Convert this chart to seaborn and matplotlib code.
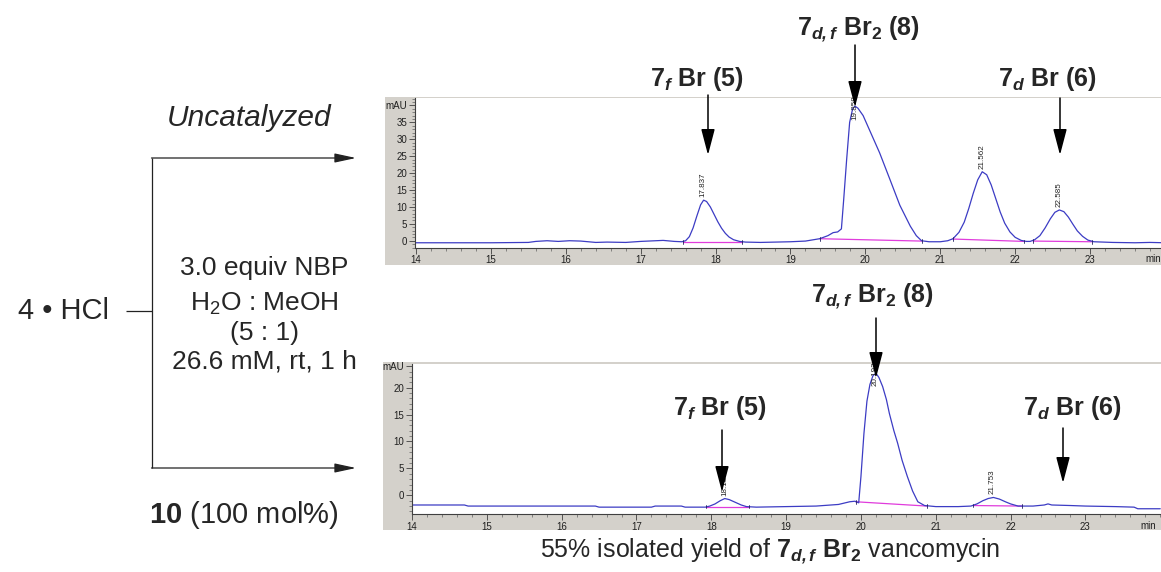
import matplotlib
matplotlib.use('Agg')
import matplotlib.pyplot as plt
from matplotlib.patches import Rectangle
from matplotlib.ticker import MultipleLocator
import seaborn as sns

W, H = 1161, 572

# uncatalyzed run: retention time (min) / absorbance (mAU)
top_time = [14.0, 15.0, 15.5, 15.6, 15.75, 15.9, 16.05, 16.2, 16.4, 16.55, 16.8, 17.0, 17.3, 17.45,
            17.55, 17.6, 17.65, 17.7, 17.75, 17.8, 17.84, 17.88, 17.93, 17.98, 18.03, 18.08, 18.13,
            18.18, 18.24, 18.32, 18.4, 18.6, 18.8, 19.0, 19.2, 19.39, 19.5, 19.57, 19.63, 19.68,
            19.71, 19.75, 19.79, 19.83, 19.86, 19.9, 19.97, 20.06, 20.19, 20.33, 20.46, 20.6, 20.68,
            20.75, 20.85, 21.0, 21.1, 21.17, 21.25, 21.32, 21.38, 21.44, 21.5, 21.56, 21.62, 21.68,
            21.74, 21.8, 21.86, 21.93, 22.0, 22.08, 22.15, 22.2, 22.26, 22.33, 22.4, 22.47, 22.53,
            22.59, 22.65, 22.71, 22.77, 22.83, 22.9, 22.97, 23.05, 23.3, 23.6, 23.8, 24.0]
top_signal = [-0.6, -0.6, -0.5, -0.2, 0.0, -0.2, 0.0, -0.1, -0.5, -0.4, -0.5, -0.2, 0.1, -0.2,
              -0.3, 0.0, 1.2, 3.8, 7.3, 10.6, 12.0, 11.6, 10.0, 7.8, 5.6, 3.7, 2.2,
              1.1, 0.3, -0.2, -0.4, -0.5, -0.4, -0.3, -0.1, 0.6, 1.5, 2.4, 2.6, 3.5,
              12.0, 24.0, 35.0, 39.0, 39.8, 39.2, 37.0, 32.5, 26.0, 18.0, 10.5, 4.3, 1.5,
              0.0, -0.3, -0.3, 0.0, 0.6, 2.5, 5.5, 9.5, 14.0, 18.0, 20.4, 19.5, 16.5,
              12.5, 8.5, 5.2, 2.6, 1.0, 0.1, -0.2, -0.2, 0.3, 1.5, 3.8, 6.5, 8.4,
              9.1, 8.6, 7.0, 4.9, 2.9, 1.3, 0.2, -0.3, -0.5, -0.6, -0.5, -0.6]
top_peak_time = [17.837, 19.858, 21.562, 22.585]
top_peak_height = [12.0, 39.8, 20.4, 9.1]
top_peak_label = ['17.837', '19.858', '21.562', '22.585']
top_base_start = [(17.57, -0.3), (19.39, 0.6), (21.17, 0.5), (22.24, -0.1)]
top_base_end = [(18.35, -0.3), (20.75, -0.1), (22.12, -0.2), (23.02, -0.3)]

# catalyzed run with 10
bot_time = [14.0, 14.7, 14.75, 15.5, 16.45, 16.5, 17.2, 17.25, 17.6, 17.65, 17.92, 17.98, 18.05,
            18.12, 18.18, 18.24, 18.32, 18.4, 18.47, 18.6, 19.0, 19.4, 19.7, 19.85, 19.92, 19.97,
            20.0, 20.04, 20.08, 20.12, 20.16, 20.2, 20.24, 20.29, 20.34, 20.38, 20.44, 20.49, 20.55,
            20.62, 20.69, 20.76, 20.85, 21.0, 21.3, 21.47, 21.55, 21.63, 21.7, 21.77, 21.85, 21.93,
            22.0, 22.1, 22.3, 22.45, 22.5, 22.55, 22.8, 23.0, 23.4, 23.65, 23.7, 24.0]
bot_signal = [-1.8, -1.8, -2.0, -2.0, -2.0, -2.2, -2.2, -2.0, -2.0, -2.2, -2.2, -2.0, -1.6,
              -1.0, -0.6, -0.8, -1.3, -1.8, -2.1, -2.2, -2.1, -2.0, -1.7, -1.2, -1.1, -1.4,
              3.5, 11.5, 17.5, 20.6, 22.2, 22.7, 21.9, 20.2, 17.8, 15.2, 12.0, 9.7, 6.5,
              3.5, 0.8, -1.2, -1.9, -2.1, -2.1, -2.0, -1.6, -1.0, -0.6, -0.4, -0.7, -1.2,
              -1.6, -2.0, -2.0, -1.8, -1.6, -1.8, -1.9, -2.0, -2.1, -2.2, -2.5, -2.5]
bot_peak_time = [18.183, 20.193, 21.753]
bot_peak_height = [-0.6, 22.7, -0.4]
bot_peak_label = ['18.183', '20.193', '21.753']
bot_base_start = [(17.93, -2.1), (19.93, -1.2), (21.5, -1.9)]
bot_base_end = [(18.5, -2.1), (20.88, -2.0), (22.15, -2.0)]

sns.set_style('ticks')
plt.rcParams['font.family'] = ['Liberation Sans', 'DejaVu Sans']
plt.rcParams['mathtext.fontset'] = 'custom'
plt.rcParams['mathtext.rm'] = 'Liberation Sans'
plt.rcParams['mathtext.it'] = 'Liberation Sans:italic'
plt.rcParams['mathtext.bf'] = 'Liberation Sans:bold'
plt.rcParams['mathtext.bfit'] = 'Liberation Sans:italic:bold'

fig = plt.figure(figsize=(W / 100, H / 100), dpi=100)
fig.patch.set_facecolor('white')

panel_grey = '#d4d1cb'
trace_blue = '#3c3cc4'
base_pink = '#e03cdc'


def px_box(l, t, r, b):
    return [l / W, 1 - b / H, (r - l) / W, (b - t) / H]


def chromatogram(box, grey, xlim, ylim, yticks, ylabels, t, s, pk_t, pk_h, pk_lab, b0, b1):
    g = px_box(*grey)
    fig.patches.append(Rectangle((g[0], g[1]), g[2], g[3], transform=fig.transFigure,
                                 facecolor=panel_grey, edgecolor='none', zorder=0))
    ax = fig.add_axes(px_box(*box), zorder=1)
    ax.set_facecolor('white')
    sns.lineplot(x=t, y=s, ax=ax, color=trace_blue, lw=0.9, estimator=None, sort=False)
    tick_h = 0.5 * (ylim[1] - ylim[0]) / 40
    for (x0, y0), (x1, y1) in zip(b0, b1):
        ax.plot([x0, x1], [y0, y1], color=base_pink, lw=0.9, zorder=1)
        ax.plot([x0, x0], [y0 - tick_h, y0 + tick_h], color='#202060', lw=0.6)
        ax.plot([x1, x1], [y1 - tick_h, y1 + tick_h], color='#202060', lw=0.6)
    ax.set_xlim(*xlim)
    ax.set_ylim(*ylim)
    unit_px = (box[3] - box[1]) / (ylim[1] - ylim[0])
    for x, h, lab in zip(pk_t, pk_h, pk_lab):
        y = min(h + 3 / unit_px, ylim[1] - 22 / unit_px)
        ax.text(x, y, lab, rotation=90, ha='center', va='bottom', fontsize=5.8,
                color='#222222', zorder=3)
    ax.set_xticks(range(14, 24))
    ax.xaxis.set_minor_locator(MultipleLocator(0.2))
    ax.set_yticks(yticks)
    ax.set_yticklabels(ylabels)
    ax.yaxis.set_minor_locator(MultipleLocator(1))
    ax.tick_params(which='major', length=4, width=0.6, color='#404040', labelsize=7, pad=1.5,
                   labelcolor='#202020')
    ax.tick_params(which='minor', length=2, width=0.5, color='#606060')
    ax.set_xlabel('')
    ax.set_ylabel('')
    for side in ['top', 'right']:
        ax.spines[side].set_visible(False)
    for side in ['left', 'bottom']:
        ax.spines[side].set_color('#404040')
        ax.spines[side].set_linewidth(0.8)
    ax.text(23.74, -12 / (box[3] - box[1]), 'min', transform=ax.get_xaxis_transform(),
            ha='left', va='center', fontsize=7, color='#202020', clip_on=False)
    return ax


chromatogram((415, 98, 1161, 247.5), (385, 97, 1161, 265), (13.987, 23.947), (-2.0, 42.2),
             list(range(0, 45, 5)), [str(v) for v in range(0, 40, 5)] + ['mAU'],
             top_time, top_signal, top_peak_time, top_peak_height, top_peak_label,
             top_base_start, top_base_end)
chromatogram((412, 364, 1161, 514.3), (383, 362, 1161, 530), (14.0, 24.01), (-3.53, 24.4),
             [0, 5, 10, 15, 20, 24], ['0', '5', '10', '15', '20', 'mAU'],
             bot_time, bot_signal, bot_peak_time, bot_peak_height, bot_peak_label,
             bot_base_start, bot_base_end)

# overlay in pixel coordinates for the scheme and the peak annotations
ov = fig.add_axes([0, 0, 1, 1], zorder=5)
ov.set_xlim(0, W)
ov.set_ylim(H, 0)
ov.axis('off')
ov.patch.set_alpha(0)

line_kw = dict(color='#222222', lw=0.9, solid_capstyle='butt')
ov.plot([152, 152], [158, 468], **line_kw)
ov.plot([126, 152], [311, 311], **line_kw)
for y in [158, 468]:
    ov.annotate('', xy=(356, y), xytext=(151.5, y),
                arrowprops=dict(arrowstyle='-|>,head_length=1.3,head_width=0.28', mutation_scale=10,
                                lw=0.9, color='#222222', shrinkA=0, shrinkB=0))

ov.text(249, 118, 'Uncatalyzed', style='italic', fontsize=21.5, ha='center', va='center')
ov.text(63, 311, '4 \u2022 HCl', fontsize=21, ha='center', va='center')
conditions = ['3.0 equiv NBP', 'H$_2$O : MeOH', '(5 : 1)', '26.6 mM, rt, 1 h']
for txt, y in zip(conditions, [268, 304, 333, 362]):
    ov.text(264, y, txt, fontsize=19, ha='center', va='center')
ov.text(244, 515, r'$\mathbf{10}$ (100 mol%)', fontsize=21, ha='center', va='center')

labels = [
    (r'$\mathbf{7}_{\mathbfit{f}}$ Br (5)', 697, 86, 708, 95, 155),
    (r'$\mathbf{7}_{\mathbfit{d,f}}$ Br$_{\mathbf{2}}$ (8)', 858, 35, 855, 45, 107),
    (r'$\mathbf{7}_{\mathbfit{d}}$ Br (6)', 1047, 86, 1060, 98, 155),
    (r'$\mathbf{7}_{\mathbfit{d,f}}$ Br$_{\mathbf{2}}$ (8)', 872, 302, 876, 318, 378),
    (r'$\mathbf{7}_{\mathbfit{f}}$ Br (5)', 720, 415, 722, 430, 492),
    (r'$\mathbf{7}_{\mathbfit{d}}$ Br (6)', 1072, 415, 1063, 428, 483),
]
for txt, tx, ty, ax_x, y0, y1 in labels:
    ov.text(tx, ty, txt, fontsize=18, fontweight='bold', ha='center', va='baseline')
    ov.annotate('', xy=(ax_x, y1), xytext=(ax_x, y0),
                arrowprops=dict(arrowstyle='-|>,head_length=1.6,head_width=0.42', mutation_scale=10,
                                lw=1.1, color='black', shrinkA=0, shrinkB=0))

ov.text(770, 557, r'55% isolated yield of $\mathbf{7}_{\mathbfit{d,f}}$ $\mathbf{Br}_{\mathbf{2}}$ vancomycin',
        fontsize=18, ha='center', va='baseline')

fig.savefig('out.png', dpi=100)
